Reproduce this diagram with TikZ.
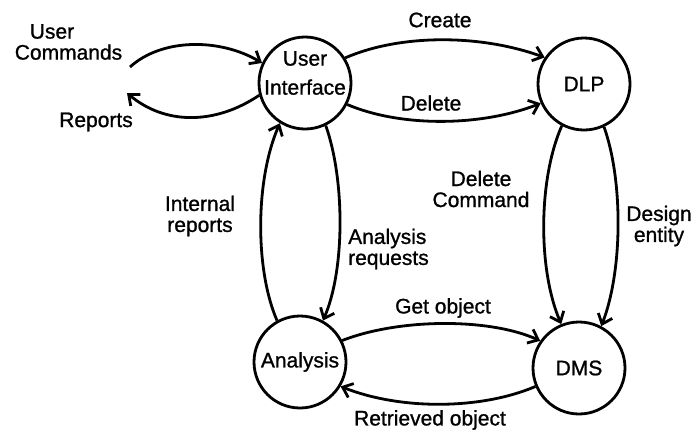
\documentclass[tikz,border=0pt]{standalone}
\usepackage{fontspec}
\setmainfont{Liberation Sans}[BoldFont={Liberation Sans},BoldFeatures={FakeBold=1.0}]
\usetikzlibrary{arrows.meta}
\begin{document}
\begin{tikzpicture}[x=1pt,y=-1pt,
  state/.style={circle,draw,line width=2.8pt,minimum size=92pt,inner sep=0pt,font=\fontsize{21}{22}\selectfont\bfseries},
  lbl/.style={font=\fontsize{21}{21}\selectfont\bfseries,align=center,inner sep=0pt},
  flow/.style={line width=2.8pt,-{Straight Barb[length=9pt,width=15pt]}}
]
\useasboundingbox (0,0) rectangle (700,434);
\fill[white] (0,0) rectangle (700,434);

% states
\node[state] (ui) at (305,83) {};
\node[lbl] (uitext) at (305,73) {User\\[8pt]Interface};
\node[state] (dlp) at (584,84) {DLP};
\node[state] (an) at (300,362) {Analysis};
\node[state] (dms) at (579,368) {DMS};

% external ends
\coordinate (uc) at (130,67);
\coordinate (rp) at (127,93);

% connectors
\draw[flow] (uc) .. controls (162,38) and (220,38) .. (ui.155);
\draw[flow] (ui.195) .. controls (215,125) and (165,125) .. (rp);
\draw[flow] (ui.32) .. controls (400,34) and (480,34) .. (dlp.146);
\draw[flow] (ui.-27) .. controls (400,127) and (480,127) .. (dlp.204);
\draw[flow] (an.119) .. controls (255,270) and (255,180) .. (ui.238);
\draw[flow] (ui.-64) .. controls (345,180) and (345,270) .. (an.61);
\draw[flow] (dlp.242) .. controls (538,180) and (538,270) .. (dms.112);
\draw[flow] (dlp.-65) .. controls (623,180) and (623,270) .. (dms.62);
\draw[flow] (an.27) .. controls (400,318) and (490,318) .. (dms.145);
\draw[flow] (dms.203) .. controls (480,410) and (400,410) .. (an.-31);

% labels
\node[lbl,align=left] (luc) at (68.5,42) {\hspace*{15pt}User\\Commands};
\node[lbl] (lrp) at (96,122) {Reports};
\node[lbl] (lcr) at (440,20) {Create};
\node[lbl] (ldl) at (431,103) {Delete};
\node[lbl] (lir) at (200,216) {Internal\\reports};
\node[lbl,align=left,anchor=west] (lar) at (348,249) {Analysis\\requests};
\node[lbl] (ldc) at (481,189) {Delete\\Command};
\node[lbl] (lde) at (659,226) {Design\\entity};
\node[lbl] (lgo) at (443,308) {Get object};
\node[lbl] (lro) at (430,420) {Retrieved object};
\end{tikzpicture}
\end{document}
